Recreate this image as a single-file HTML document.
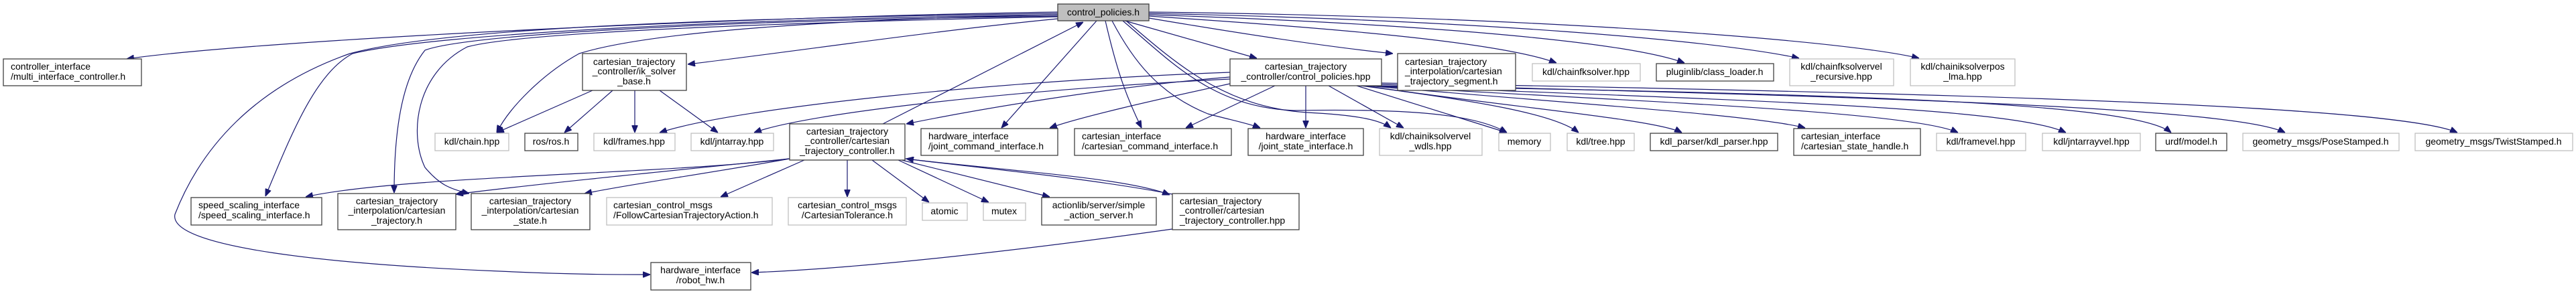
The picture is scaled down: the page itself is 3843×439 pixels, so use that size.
<!DOCTYPE html>
<html><head><meta charset="utf-8"><style>
html,body{margin:0;padding:0;background:#fff;}
svg{display:block;}
text{font-family:"Liberation Sans",sans-serif;font-size:14px;fill:#000;}
.e{fill:none;stroke:#191970;stroke-width:1.2;}
.b{fill:#fff;stroke:#404040;stroke-width:1.3;}
.g{fill:#fff;stroke:#bfbfbf;stroke-width:1.3;}
</style></head><body>
<svg width="3843" height="439" viewBox="0 0 3843 439" xmlns="http://www.w3.org/2000/svg">
<defs><marker id="a" viewBox="0 0 10 8" refX="10" refY="4" markerWidth="11" markerHeight="9" markerUnits="userSpaceOnUse" orient="auto"><path d="M0,0 L10,4 L0,8 z" fill="#191970" stroke="#191970"/></marker></defs>
<g marker-end="url(#a)">
<!-- from control_policies.h -->
<path class="e" d="M1578,18 C1100,25 380,60 189,88"/>
<path class="e" d="M1578,22 C1100,28 650,50 526,80 C470,110 435,200 396,293"/>
<path class="e" d="M1578,24 C1100,30 700,50 634,75 C598,120 588,200 588,288"/>
<path class="e" d="M1578,20 C1000,28 650,45 522,80 C380,130 300,220 261,320 C250,370 500,395 746,405 C850,410 920,410 970,410"/>
<path class="e" d="M1578,25 C1100,35 770,50 697,70 C620,110 610,200 634,250 C655,275 670,282 700,289"/>
<path class="e" d="M1578,22 C1200,30 960,50 864,80 C810,110 760,160 741,198"/>
<path class="e" d="M1578,28 C1400,45 1200,75 1026,96"/>
<path class="e" d="M1317,185 L1616,33"/>
<path class="e" d="M1636,31 L1494,191"/>
<path class="e" d="M1649,31 C1665,100 1678,140 1703,191"/>
<path class="e" d="M1659,31 C1690,90 1728,140 1802,170 C1840,180 1865,185 1880,191"/>
<path class="e" d="M1678,31 L1875,87"/>
<path class="e" d="M1680,31 C1760,100 1830,160 1950,168 C2030,172 2060,180 2075,191"/>
<path class="e" d="M1675,31 C1750,95 1810,160 1930,165 C2100,162 2200,170 2248,198"/>
<path class="e" d="M1714,27 C1850,50 1980,70 2078,80"/>
<path class="e" d="M1714,24 C1950,40 2230,60 2322,94"/>
<path class="e" d="M1714,22 C2100,35 2420,60 2513,94"/>
<path class="e" d="M1714,20 C2200,30 2560,60 2684,87"/>
<path class="e" d="M1714,18 C2300,25 2750,60 2863,87"/>
<!-- ik_solver_base -->
<path class="e" d="M884,135 L741,198"/>
<path class="e" d="M914,135 L842,198"/>
<path class="e" d="M947,135 L947,198"/>
<path class="e" d="M984,135 L1071,198"/>
<!-- control_policies.hpp -->
<path class="e" d="M1835,108 C1500,120 1100,160 984,198"/>
<path class="e" d="M1835,118 C1500,135 1200,170 1125,198"/>
<path class="e" d="M1835,115 C1650,130 1450,165 1352,185"/>
<path class="e" d="M1835,125 C1720,150 1610,175 1566,191"/>
<path class="e" d="M1902,128 L1769,191"/>
<path class="e" d="M1948,128 L1948,191"/>
<path class="e" d="M1982,128 L2094,191"/>
<path class="e" d="M2024,128 L2248,198"/>
<path class="e" d="M2030,128 C2200,150 2320,170 2355,198"/>
<path class="e" d="M2035,128 C2250,160 2470,178 2509,198"/>
<path class="e" d="M2040,128 C2350,155 2620,172 2693,191"/>
<path class="e" d="M2045,128 C2400,150 2850,165 2921,198"/>
<path class="e" d="M2050,128 C2600,150 3000,160 3082,198"/>
<path class="e" d="M2055,128 C2700,140 3180,150 3239,198"/>
<path class="e" d="M2058,126 C2800,145 3330,160 3409,198"/>
<path class="e" d="M2060,124 C3000,140 3580,160 3666,198"/>
<!-- cartesian_trajectory_controller.h -->
<path class="e" d="M1178,237 C1000,260 600,262 456,294"/>
<path class="e" d="M1178,237 C950,260 800,275 680,290"/>
<path class="e" d="M1178,237 C1050,260 940,275 872,289"/>
<path class="e" d="M1200,239 L1075,294"/>
<path class="e" d="M1264,239 L1264,294"/>
<path class="e" d="M1301,239 L1386,302"/>
<path class="e" d="M1340,239 L1475,302"/>
<path class="e" d="M1345,239 L1566,294"/>
<path class="e" d="M1350,237 C1500,255 1680,265 1745,291"/>
<!-- cartesian_trajectory_controller.hpp -->
<path class="e" d="M1749,290 C1620,265 1450,250 1352,237"/>
<path class="e" d="M1749,342 C1550,370 1300,400 1121,407"/>
</g>

<!-- nodes -->
<rect x="1578" y="6" width="136" height="25" fill="#bfbfbf" stroke="#404040" stroke-width="1.3"/>
<text x="1646" y="23" text-anchor="middle">control_policies.h</text>

<rect class="b" x="5" y="88" width="206" height="40"/>
<text x="16" y="104">controller_interface</text><text x="16" y="119">/multi_interface_controller.h</text>

<rect class="b" x="285" y="295" width="195" height="41"/>
<text x="296" y="311">speed_scaling_interface</text><text x="296" y="326">/speed_scaling_interface.h</text>

<rect class="b" x="504" y="289" width="176" height="54"/>
<text x="592" y="305" text-anchor="middle">cartesian_trajectory</text><text x="592" y="319" text-anchor="middle">_interpolation/cartesian</text><text x="592" y="334" text-anchor="middle">_trajectory.h</text>

<rect class="b" x="869" y="80" width="155" height="55"/>
<text x="946" y="97" text-anchor="middle">cartesian_trajectory</text><text x="946" y="111" text-anchor="middle">_controller/ik_solver</text><text x="946" y="126" text-anchor="middle">_base.h</text>

<rect class="g" x="649" y="199" width="110" height="26"/><text x="704" y="216" text-anchor="middle">kdl/chain.hpp</text>
<rect class="b" x="783" y="199" width="79" height="26"/><text x="822" y="216" text-anchor="middle">ros/ros.h</text>
<rect class="g" x="886" y="199" width="121" height="26"/><text x="946" y="216" text-anchor="middle">kdl/frames.hpp</text>
<rect class="g" x="1031" y="199" width="123" height="26"/><text x="1092" y="216" text-anchor="middle">kdl/jntarray.hpp</text>

<rect class="b" x="1178" y="185" width="172" height="54"/>
<text x="1264" y="201" text-anchor="middle">cartesian_trajectory</text><text x="1264" y="215" text-anchor="middle">_controller/cartesian</text><text x="1264" y="230" text-anchor="middle">_trajectory_controller.h</text>

<rect class="b" x="703" y="289" width="177" height="54"/>
<text x="791" y="305" text-anchor="middle">cartesian_trajectory</text><text x="791" y="319" text-anchor="middle">_interpolation/cartesian</text><text x="791" y="334" text-anchor="middle">_state.h</text>

<rect class="g" x="905" y="295" width="247" height="41"/>
<text x="915" y="311">cartesian_control_msgs</text><text x="915" y="326">/FollowCartesianTrajectoryAction.h</text>

<rect class="g" x="1176" y="295" width="176" height="41"/>
<text x="1264" y="311" text-anchor="middle">cartesian_control_msgs</text><text x="1264" y="326" text-anchor="middle">/CartesianTolerance.h</text>

<rect class="b" x="971" y="392" width="149" height="41"/>
<text x="1045" y="408" text-anchor="middle">hardware_interface</text><text x="1045" y="423" text-anchor="middle">/robot_hw.h</text>

<rect class="b" x="1374" y="192" width="204" height="40"/>
<text x="1385" y="208">hardware_interface</text><text x="1385" y="223">/joint_command_interface.h</text>

<rect class="b" x="1603" y="192" width="234" height="40"/>
<text x="1614" y="208">cartesian_interface</text><text x="1614" y="223">/cartesian_command_interface.h</text>

<rect class="b" x="1862" y="192" width="172" height="40"/>
<text x="1948" y="208" text-anchor="middle">hardware_interface</text><text x="1948" y="223" text-anchor="middle">/joint_state_interface.h</text>

<rect class="g" x="1376" y="303" width="67" height="26"/><text x="1409" y="320" text-anchor="middle">atomic</text>
<rect class="g" x="1467" y="303" width="63" height="26"/><text x="1498" y="320" text-anchor="middle">mutex</text>

<rect class="b" x="1554" y="295" width="171" height="41"/>
<text x="1639" y="311" text-anchor="middle">actionlib/server/simple</text><text x="1639" y="326" text-anchor="middle">_action_server.h</text>

<rect class="b" x="1749" y="289" width="189" height="54"/>
<text x="1760" y="305">cartesian_trajectory</text><text x="1760" y="319">_controller/cartesian</text><text x="1760" y="334">_trajectory_controller.hpp</text>

<rect class="b" x="1835" y="88" width="226" height="40"/>
<text x="1948" y="104" text-anchor="middle">cartesian_trajectory</text><text x="1948" y="119" text-anchor="middle">_controller/control_policies.hpp</text>

<rect class="b" x="2085" y="80" width="176" height="55"/>
<text x="2096" y="97">cartesian_trajectory</text><text x="2096" y="111">_interpolation/cartesian</text><text x="2096" y="126">_trajectory_segment.h</text>

<rect class="g" x="2286" y="95" width="161" height="26"/><text x="2366" y="112" text-anchor="middle">kdl/chainfksolver.hpp</text>
<rect class="b" x="2471" y="95" width="175" height="26"/><text x="2558" y="112" text-anchor="middle">pluginlib/class_loader.h</text>

<rect class="g" x="2058" y="192" width="153" height="40"/>
<text x="2134" y="208" text-anchor="middle">kdl/chainiksolvervel</text><text x="2134" y="223" text-anchor="middle">_wdls.hpp</text>

<rect class="g" x="2236" y="199" width="77" height="26"/><text x="2274" y="216" text-anchor="middle">memory</text>
<rect class="g" x="2338" y="199" width="100" height="26"/><text x="2388" y="216" text-anchor="middle">kdl/tree.hpp</text>
<rect class="b" x="2462" y="199" width="190" height="26"/><text x="2557" y="216" text-anchor="middle">kdl_parser/kdl_parser.hpp</text>

<rect class="g" x="2670" y="88" width="155" height="40"/>
<text x="2747" y="104" text-anchor="middle">kdl/chainfksolvervel</text><text x="2747" y="119" text-anchor="middle">_recursive.hpp</text>

<rect class="g" x="2850" y="88" width="156" height="40"/>
<text x="2928" y="104" text-anchor="middle">kdl/chainiksolverpos</text><text x="2928" y="119" text-anchor="middle">_lma.hpp</text>

<rect class="b" x="2676" y="192" width="189" height="40"/>
<text x="2687" y="208">cartesian_interface</text><text x="2687" y="223">/cartesian_state_handle.h</text>

<rect class="g" x="2889" y="199" width="133" height="26"/><text x="2955" y="216" text-anchor="middle">kdl/framevel.hpp</text>
<rect class="g" x="3047" y="199" width="146" height="26"/><text x="3120" y="216" text-anchor="middle">kdl/jntarrayvel.hpp</text>
<rect class="b" x="3216" y="199" width="106" height="26"/><text x="3269" y="216" text-anchor="middle">urdf/model.h</text>
<rect class="g" x="3346" y="199" width="233" height="26"/><text x="3462" y="216" text-anchor="middle">geometry_msgs/PoseStamped.h</text>
<rect class="g" x="3603" y="199" width="235" height="26"/><text x="3720" y="216" text-anchor="middle">geometry_msgs/TwistStamped.h</text>
</svg>
</body></html>
